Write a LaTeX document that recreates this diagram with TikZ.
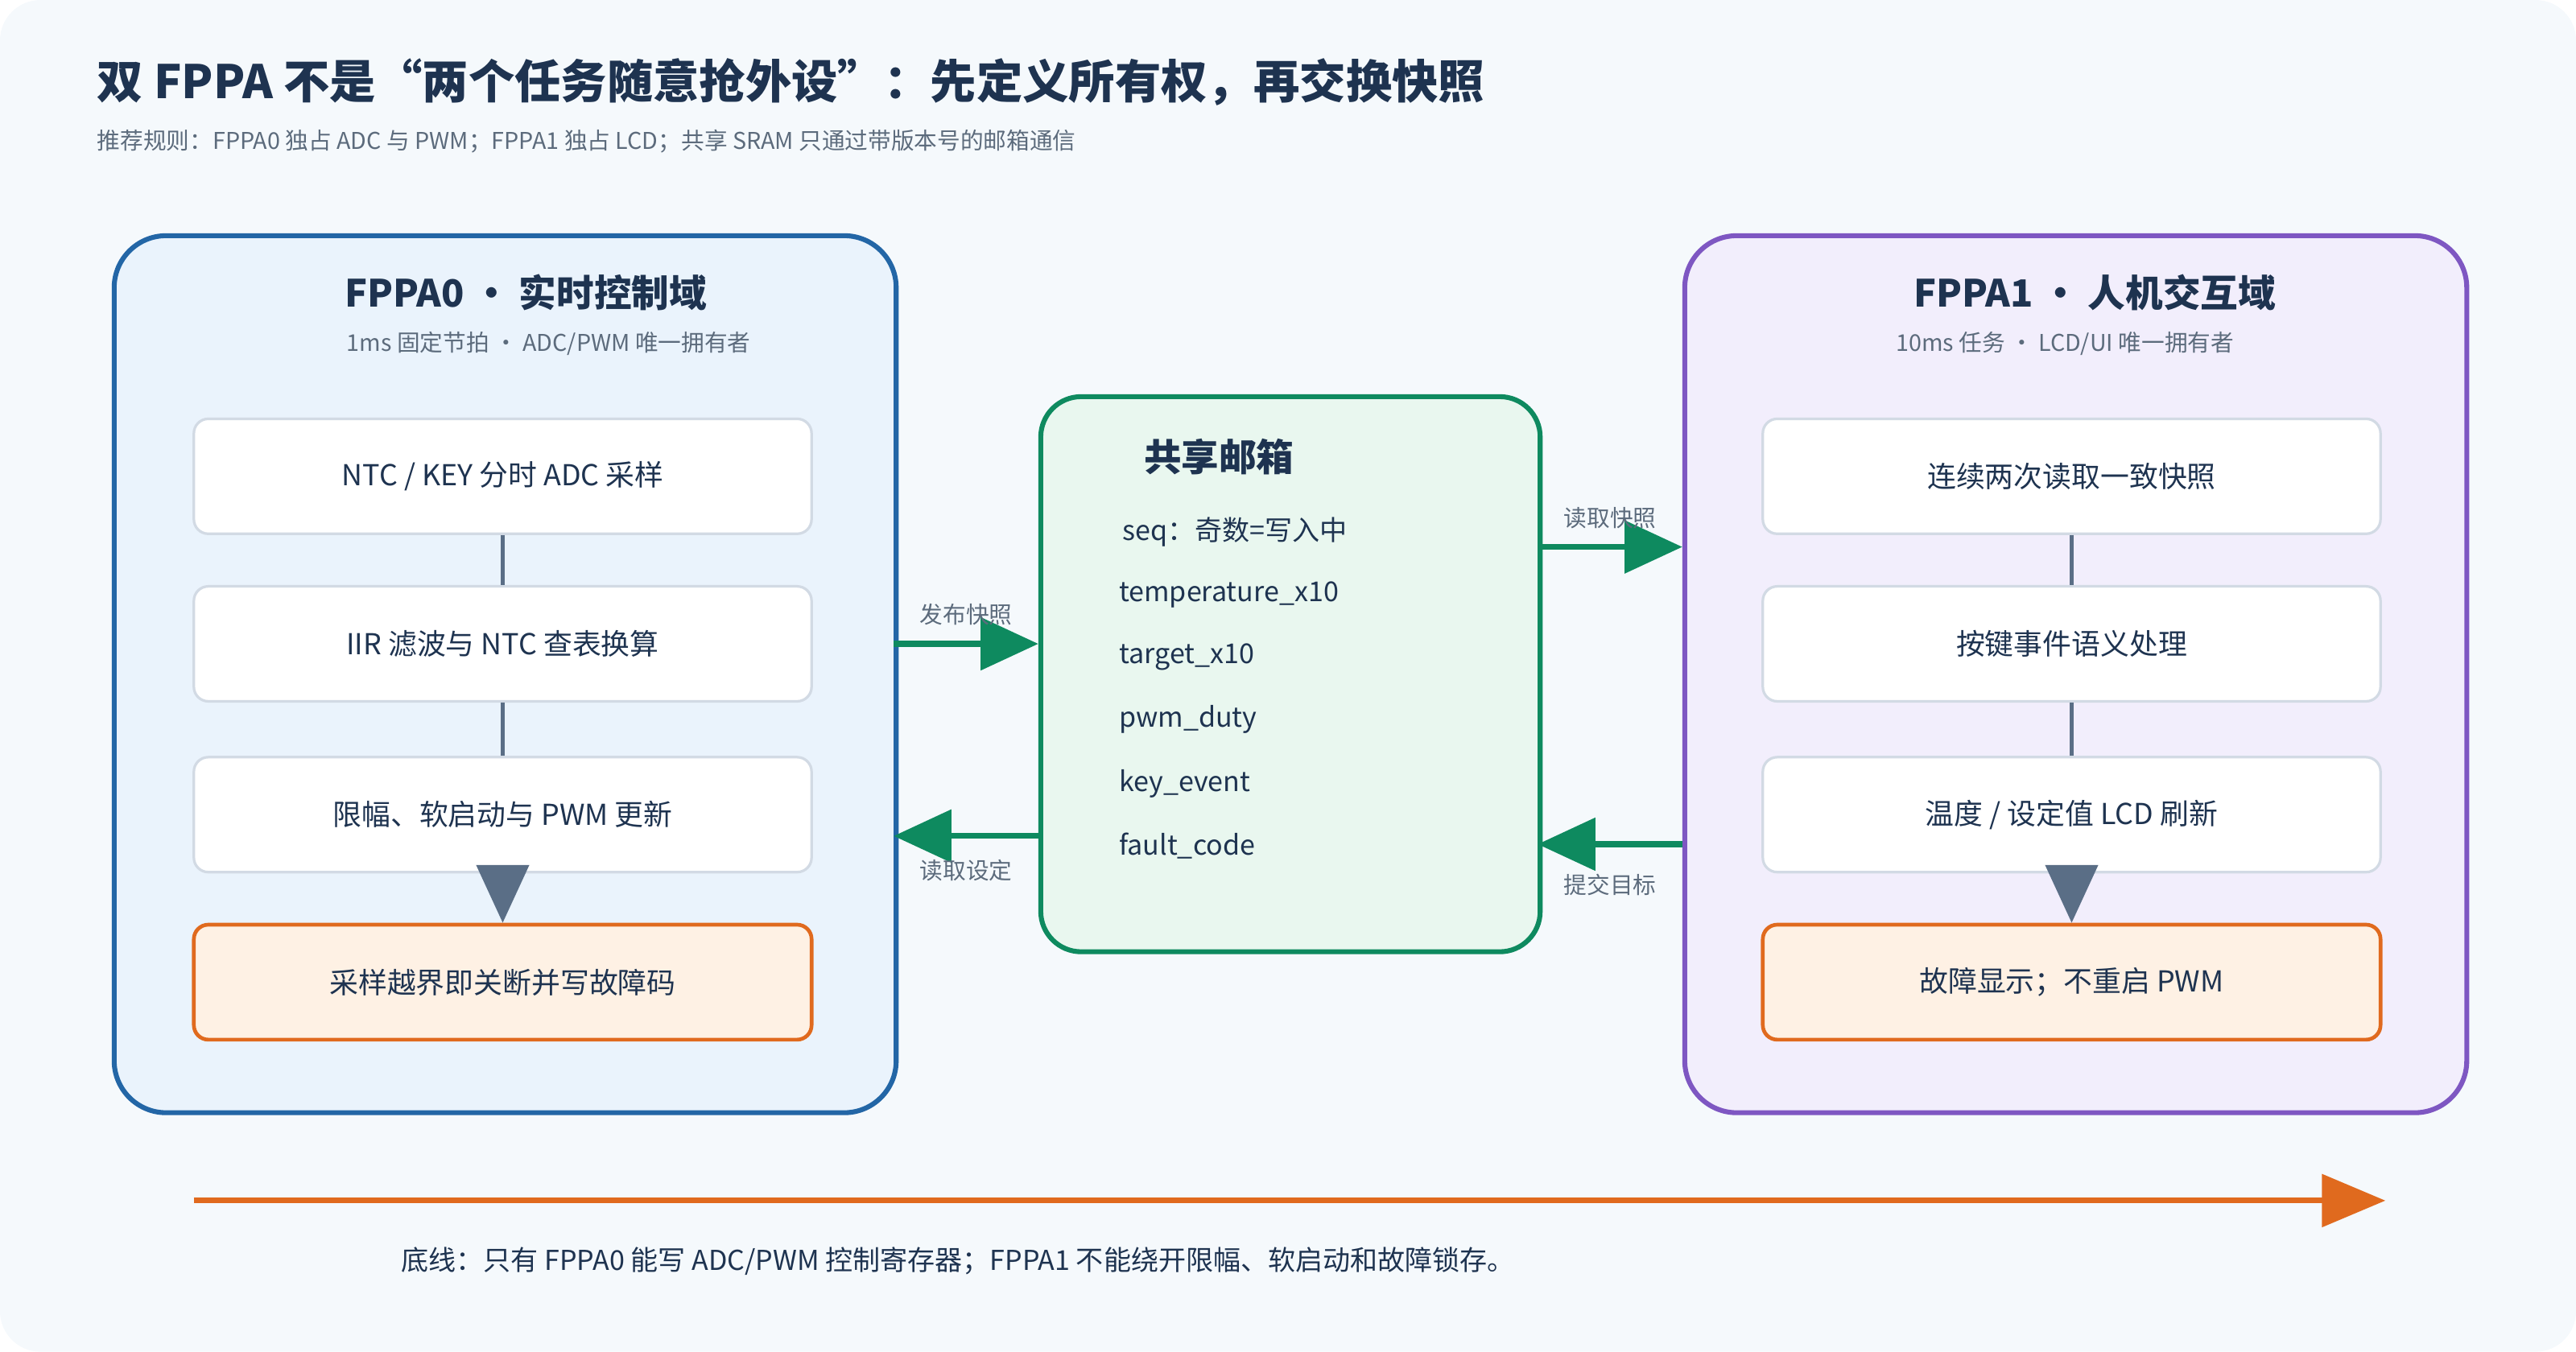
\documentclass[tikz,border=0pt]{standalone}
\usepackage[rgb]{xcolor}
\usepackage{tikz}
\usetikzlibrary{arrows.meta,positioning}
\usepackage{fontspec}
\setmainfont{Noto Sans CJK SC}
\definecolor{ink}{HTML}{1E3350}
\definecolor{muted}{HTML}{5C6B7C}
\definecolor{bg}{HTML}{F5F9FC}
\definecolor{blueedge}{HTML}{2366A6}
\definecolor{bluefill}{HTML}{EAF3FC}
\definecolor{violetedge}{HTML}{7E57C2}
\definecolor{violetfill}{HTML}{F2EEFC}
\definecolor{greenedge}{HTML}{0E8A5F}
\definecolor{greenfill}{HTML}{E9F7EF}
\definecolor{orangeedge}{HTML}{E06A1E}
\definecolor{orangefill}{HTML}{FEF1E4}
\definecolor{stepedge}{HTML}{D2DAE4}
\definecolor{linkgray}{HTML}{5A6E86}

\tikzset{
  panel/.style={rounded corners=18pt, line width=1.7pt, minimum width=476*0.02cm, minimum height=534*0.02cm, anchor=north west},
  stage/.style={rounded corners=5pt, draw=stepedge, line width=0.9pt, fill=white, minimum width=376*0.02cm, minimum height=70*0.02cm, text=ink, font=\fontsize{10}{12}\selectfont},
  fault/.style={stage, draw=orangeedge, fill=orangefill, line width=1.3pt},
  head/.style={text=ink, font=\fontsize{13}{15}\selectfont\bfseries},
  note/.style={text=muted, font=\fontsize{8}{10}\selectfont},
  field/.style={text=ink, anchor=west, font=\fontsize{9.5}{11}\selectfont},
  link/.style={draw=linkgray, line width=1.6pt},
  flow/.style={draw=greenedge, line width=2pt, -{Triangle[length=20pt,width=18pt]}},
}

\begin{document}
\begin{tikzpicture}[x=0.02cm, y=-0.02cm]

% background and title
\filldraw[fill=bg, draw=none, rounded corners=14pt] (0,0) rectangle (1568,823);
\useasboundingbox (0,0) rectangle (1568,823);
\node[anchor=west, text=ink, font=\fontsize{16}{18}\selectfont\bfseries] (title) at (53,50)
  {双 FPPA 不是“两个任务随意抢外设”：先定义所有权，再交换快照};
\node[anchor=west, note] (subtitle) at (53,86)
  {推荐规则：FPPA0 独占 ADC 与 PWM；FPPA1 独占 LCD；共享 SRAM 只通过带版本号的邮箱通信};

% FPPA0 domain
\node[panel, draw=blueedge, fill=bluefill] (left) at (68,142) {};
\node[head] (lhead) at (320,178) {FPPA0 · 实时控制域};
\node[note] (lnote) at (334,209) {1ms 固定节拍 · ADC/PWM 唯一拥有者};
\node[stage] (adc) at (306,290) {NTC / KEY 分时 ADC 采样};
\node[stage] (iir) at (306,392) {IIR 滤波与 NTC 查表换算};
\node[stage] (pwm) at (306,496) {限幅、软启动与 PWM 更新};
\node[fault] (trip) at (306,598) {采样越界即关断并写故障码};
\draw[link] (adc) -- (iir);
\draw[link] (iir) -- (pwm);
\draw[link, -{Triangle[length=20pt,width=18pt]}] (pwm) -- (trip);

% shared mailbox
\node[rounded corners=14pt, draw=greenedge, fill=greenfill, line width=1.7pt,
  minimum width=304*0.02cm, minimum height=338*0.02cm, anchor=north west] (box) at (632,240) {};
\node[head] (bhead) at (742,278) {共享邮箱};
\node[field] (seq) at (677,324) {seq：奇数=写入中};
\node[field] (temp) at (675,362) {temperature\_x10};
\node[field] (target) at (675,400) {target\_x10};
\node[field] (duty) at (675,438) {pwm\_duty};
\node[field] (key) at (675,477) {key\_event};
\node[field] (code) at (675,515) {fault\_code};

% FPPA1 domain
\node[panel, draw=violetedge, fill=violetfill] (right) at (1024,142) {};
\node[head] (rhead) at (1275,178) {FPPA1 · 人机交互域};
\node[note] (rnote) at (1257,209) {10ms 任务 · LCD/UI 唯一拥有者};
\node[stage] (snap) at (1261,290) {连续两次读取一致快照};
\node[stage] (keys) at (1261,392) {按键事件语义处理};
\node[stage] (lcd) at (1261,496) {温度 / 设定值 LCD 刷新};
\node[fault] (show) at (1261,598) {故障显示；不重启 PWM};
\draw[link] (snap) -- (keys);
\draw[link] (keys) -- (lcd);
\draw[link, -{Triangle[length=20pt,width=18pt]}] (lcd) -- (show);

% mailbox traffic
\coordinate (l1) at (544,392); \coordinate (b1) at (632,392);
\coordinate (b2) at (632,509); \coordinate (l2) at (544,509);
\coordinate (b3) at (936,333); \coordinate (r3) at (1024,333);
\coordinate (r4) at (1024,514); \coordinate (b4) at (936,514);
\draw[flow] (l1) -- (b1) node[midway, above=2pt, note] {发布快照};
\draw[flow] (b2) -- (l2) node[midway, below=4pt, note] {读取设定};
\draw[flow] (b3) -- (r3) node[midway, above=2pt, note] {读取快照};
\draw[flow] (r4) -- (b4) node[midway, below=6pt, note] {提交目标};

% bottom line
\coordinate (t0) at (118,731); \coordinate (t1) at (1452,731);
\draw[draw=orangeedge, line width=2pt, -{Triangle[length=22pt,width=18pt]}] (t0) -- (t1);
\node[anchor=west, text=ink, font=\fontsize{9.5}{11}\selectfont] (base) at (238,768)
  {底线：只有 FPPA0 能写 ADC/PWM 控制寄存器；FPPA1 不能绕开限幅、软启动和故障锁存。};

\end{tikzpicture}
\end{document}
